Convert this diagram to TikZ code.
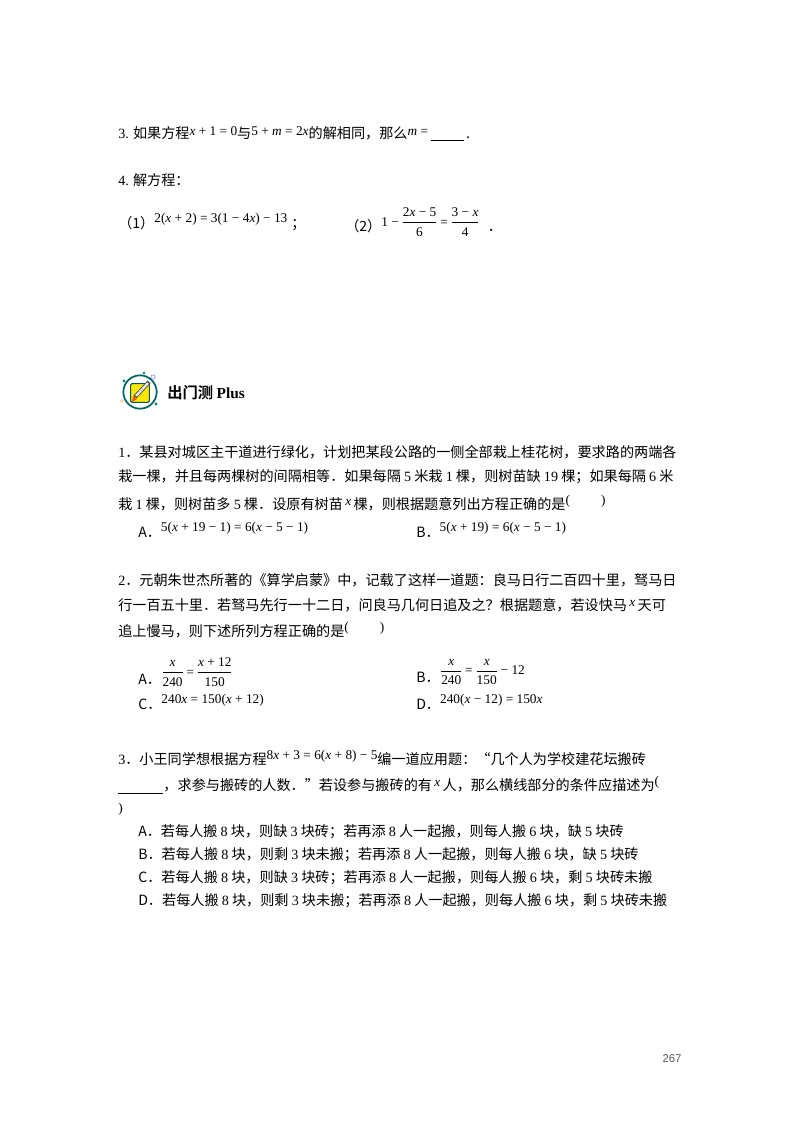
\documentclass[tikz,border=0pt]{standalone}
\usepackage{amsmath}
\usepackage{fontspec}
\setmainfont{Liberation Serif}
\newfontfamily\cjk{Noto Sans CJK SC}
\newfontfamily\ser{Liberation Serif}
\newfontfamily\hei{Noto Sans CJK SC Bold}
\newfontfamily\sans{Liberation Sans}
\newcommand{\mi}[1]{{\itshape #1}}
\newcommand{\fm}[1]{{\ser\fontsize{10}{12}\selectfont #1}}
\newcommand{\fr}[2]{$\dfrac{\hbox{\fm{#1}}}{\hbox{\fm{#2}}}$}
\begin{document}
\begin{tikzpicture}[x=0.75pt,y=-0.75pt,
  txt/.style={anchor=west,inner sep=0pt,font=\cjk\fontsize{10.6}{12}\selectfont},
  opt/.style={anchor=west,inner sep=0pt,font=\cjk\fontsize{10.6}{12}\selectfont}]
\useasboundingbox (0,0) rectangle (800,1132);
\fill[white] (0,0) rectangle (800,1132);
% Part 3,4
\node[txt] (q3) at (118,134) {{\ser 3.} 如果方程\raisebox{2pt}{\fm{\mi{x} + 1 = 0}}与\raisebox{2pt}{\fm{5 + \mi{m} = 2\mi{x}}}的解相同，那么\raisebox{2pt}{\fm{\mi{m} =}} \underline{\hspace{2.3em}}\,.};
\node[txt] (q4) at (118,180) {{\ser 4.} 解方程：};
\node[txt] (q41) at (118,222) {（1）\raisebox{4pt}{\fm{2(\mi{x} + 2) = 3(1 − 4\mi{x}) − 13}}\;；};
\node[txt] (q42) at (345,222) {（2）\raisebox{4pt}{\fm{1 −}\,\fr{2\mi{x} − 5}{6}\,\fm{=}\,\fr{3 − \mi{x}}{4}}\;\;．};
% icon
\node[circle,draw=teal!80!black,line width=1.3pt,minimum size=25pt,inner sep=0pt] (ic) at (140,392) {};
\node[fill=yellow!90!orange,draw=teal!70!black,line width=0.8pt,rounded corners=1pt,minimum size=14pt,inner sep=0pt] (sq) at (140,393) {};
\draw[line width=3pt,gray!50!black] (135,397) -- (149,382);
\draw[line width=1.8pt,gray!20] (136,396) -- (148,383);
\fill[orange!70!red] (132,402) -- (133,396) -- (137,399) -- cycle;
\fill[teal] (124,381) circle (1.2pt) (156,404) circle (1.2pt) (144,373) circle (1pt) (157,392) circle (0.8pt);
\draw[blue!50] (153,377) circle (1.6pt);
\draw[orange!60] (122,401) circle (1.2pt);
\node[anchor=west,inner sep=0pt,font=\hei\fontsize{11.5}{13}\selectfont] (ttl) at (167,393) {出门测 {\ser\bfseries Plus}};
% Q1
\node[txt] (a1) at (118,452) {{\ser 1}．某县对城区主干道进行绿化，计划把某段公路的一侧全部栽上桂花树，要求路的两端各};
\node[txt] (a2) at (118,477) {栽一棵，并且每两棵树的间隔相等．如果每隔 {\ser 5} 米栽 {\ser 1} 棵，则树苗缺 {\ser 19} 棵；如果每隔 {\ser 6} 米};
\node[txt] (a3) at (118,503) {栽 {\ser 1} 棵，则树苗多 {\ser 5} 棵．设原有树苗\raisebox{3pt}{\,\fm{\mi{x}}\,}棵，则根据题意列出方程正确的是\raisebox{4pt}{\fm{(}}\hspace{2.2em}\raisebox{4pt}{\fm{)}}};
\node[opt] (a4) at (138,530) {A．\raisebox{4pt}{\fm{5(\mi{x} + 19 − 1) = 6(\mi{x} − 5 − 1)}}};
\node[opt] (a5) at (416,530) {B．\raisebox{4pt}{\fm{5(\mi{x} + 19) = 6(\mi{x} − 5 − 1)}}};
% Q2
\node[txt] (b1) at (118,580) {{\ser 2}．元朝朱世杰所著的《算学启蒙》中，记载了这样一道题：良马日行二百四十里，驽马日};
\node[txt] (b2) at (118,605) {行一百五十里．若驽马先行一十二日，问良马几何日追及之？根据题意，若设快马\raisebox{3pt}{\,\fm{\mi{x}}\,}天可};
\node[txt] (b3) at (118,630) {追上慢马，则下述所列方程正确的是\raisebox{4pt}{\fm{(}}\hspace{2.2em}\raisebox{4pt}{\fm{)}}};
\node[opt] (b4) at (138,672) {A．\raisebox{6pt}{\fr{\mi{x}}{240}\,\fm{=}\,\fr{\mi{x} + 12}{150}}};
\node[opt] (b5) at (416,672) {B．\raisebox{6pt}{\fr{\mi{x}}{240}\,\fm{=}\,\fr{\mi{x}}{150}\,\fm{− 12}}};
\node[opt] (b6) at (138,702) {C．\raisebox{4pt}{\fm{240\mi{x} = 150(\mi{x} + 12)}}};
\node[opt] (b7) at (416,702) {D．\raisebox{4pt}{\fm{240(\mi{x} − 12) = 150\mi{x}}}};
% Q3
\node[txt] (c1) at (118,758) {{\ser 3}．小王同学想根据方程\raisebox{4pt}{\fm{8\mi{x} + 3 = 6(\mi{x} + 8) − 5}}编一道应用题：“几个人为学校建花坛搬砖};
\node[txt] (c2) at (118,785) {\underline{\hspace{3.2em}}，求参与搬砖的人数．”若设参与搬砖的有\raisebox{3pt}{\,\fm{\mi{x}}\,}人，那么横线部分的条件应描述为\raisebox{4pt}{\fm{(}}};
\node[txt] (c3) at (118,809) {\fm{)}};
\node[opt] (c4) at (138,832) {A．若每人搬 {\ser 8} 块，则缺 {\ser 3} 块砖；若再添 {\ser 8} 人一起搬，则每人搬 {\ser 6} 块，缺 {\ser 5} 块砖};
\node[opt] (c5) at (138,855) {B．若每人搬 {\ser 8} 块，则剩 {\ser 3} 块未搬；若再添 {\ser 8} 人一起搬，则每人搬 {\ser 6} 块，缺 {\ser 5} 块砖};
\node[opt] (c6) at (138,878) {C．若每人搬 {\ser 8} 块，则缺 {\ser 3} 块砖；若再添 {\ser 8} 人一起搬，则每人搬 {\ser 6} 块，剩 {\ser 5} 块砖未搬};
\node[opt] (c7) at (138,901) {D．若每人搬 {\ser 8} 块，则剩 {\ser 3} 块未搬；若再添 {\ser 8} 人一起搬，则每人搬 {\ser 6} 块，剩 {\ser 5} 块砖未搬};
\node[anchor=center,inner sep=0pt,font=\sans\fontsize{8.5}{10}\selectfont,gray!70!black] (pg) at (672,1059) {267};
\end{tikzpicture}
\end{document}
